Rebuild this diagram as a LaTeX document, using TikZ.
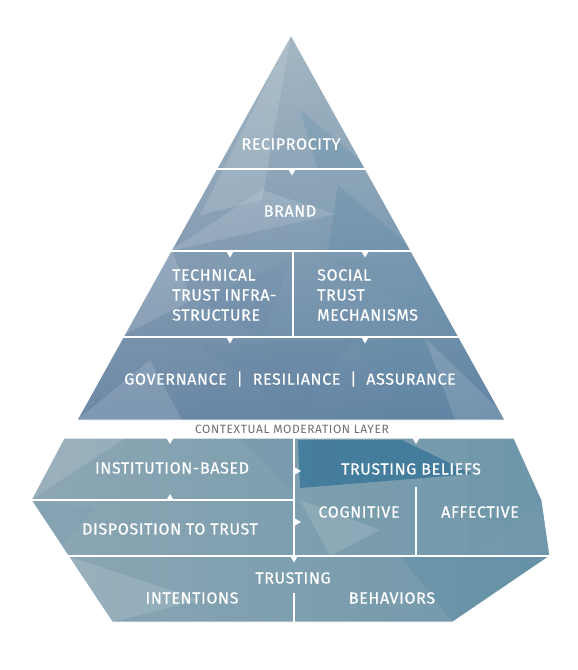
\documentclass[tikz,border=0pt]{standalone}
\usepackage{fontspec}
\setmainfont{Fira Sans}
\newfontfamily\lblfont{Fira Sans}[LetterSpace=4, FakeBold=0.5]
\newfontfamily\ctxfont{Fira Sans}[LetterSpace=5]
\usepackage{tikz}
\usetikzlibrary{calc}
\definecolor{pyrlight}{RGB}{200,205,211}
\definecolor{pyrmid}{RGB}{128,156,176}
\definecolor{pyrdark}{RGB}{96,124,160}
\definecolor{pyrteal}{RGB}{92,144,168}
\definecolor{lowlight}{RGB}{140,166,180}
\definecolor{lowmid}{RGB}{112,152,170}
\definecolor{deepteal}{RGB}{34,104,146}
\definecolor{layergray}{RGB}{110,110,110}
\tikzset{
  %% ---- text ----
  lbl/.style     = {text=white, font=\lblfont\fontsize{16}{20}\selectfont, inner sep=0pt},
  lblleft/.style = {lbl, align=left, anchor=west},
  ctxlbl/.style  = {text=layergray, font=\ctxfont\fontsize{12}{12}\selectfont, inner sep=0pt},
  %% ---- lines and patches ----
  divider/.style = {draw=white, line width=1.6pt},
  rim/.style     = {draw=white, line width=1pt},
  facet/.style   = {fill=#1, fill opacity=0.13},
  facet/.default = white,
}
% small white marks on the divider lines
\newcommand{\tipdown}[1]{\fill[white] ($(#1)+(-3.5,0)$) -- ($(#1)+(3.5,0)$) -- ($(#1)+(0,6)$) -- cycle;}
\newcommand{\tipup}[1]{\fill[white] ($(#1)+(-3.5,0)$) -- ($(#1)+(3.5,0)$) -- ($(#1)+(0,-6)$) -- cycle;}
\newcommand{\tipright}[1]{\fill[white] ($(#1)+(0,-3.5)$) -- ($(#1)+(0,3.5)$) -- ($(#1)+(6,0)$) -- cycle;}
\newcommand{\pyrpath}{(apex) -- (pyrL) -- (pyrR) -- cycle}
\newcommand{\lowpath}{(lowTL) -- (lowL) -- (lowBL) -- (lowBR) -- (lowR) -- (lowRT) -- (lowTR) -- cycle}

\begin{document}
\begin{tikzpicture}[x=1pt, y=-1pt]
\useasboundingbox[fill=white] (0,0) rectangle (578,670);

% outline points
\coordinate (apex)  at (291,35);
\coordinate (pyrL)  at (77,420);
\coordinate (pyrR)  at (505,420);
\coordinate (lowTL) at (64,438);
\coordinate (lowL)  at (31,500);
\coordinate (lowBL) at (112,622);
\coordinate (lowBR) at (453,622);
\coordinate (lowR)  at (550,556);
\coordinate (lowRT) at (542,500);
\coordinate (lowTR) at (514,438);

% soft shadow
\foreach \d/\o in {12/0.025, 9/0.035, 6/0.045, 3/0.06} {
  \fill[black, opacity=\o, shift={(\d*0.5,\d)}] \pyrpath;
  \fill[black, opacity=\o, shift={(\d*0.5,\d)}] \lowpath;
}

% base fills
\shade[top color=pyrlight, bottom color=pyrdark] \pyrpath;
\shade[left color=pyrmid, right color=pyrteal, opacity=0.4] \pyrpath;
\shade[left color=lowlight, right color=lowmid] \lowpath;

% low-poly facets
\begin{scope}
  \clip \pyrpath;
  \fill[facet] (291,35) -- (200,215) -- (262,200) -- cycle;
  \fill[facet=deepteal] (300,110) -- (370,169) -- (318,169) -- cycle;
  \fill[facet] (170,251) -- (262,190) -- (335,214) -- cycle;
  \fill[facet=deepteal] (338,185) -- (415,251) -- (328,251) -- cycle;
  \fill[facet] (120,337) -- (172,251) -- (192,300) -- cycle;
  \fill[facet=pyrdark] (200,300) -- (292,258) -- (262,337) -- cycle;
  \fill[facet=pyrteal] (330,260) -- (420,251) -- (460,337) -- cycle;
  \fill[facet] (77,420) -- (150,360) -- (182,420) -- cycle;
  \fill[facet=pyrdark] (200,345) -- (352,340) -- (300,420) -- cycle;
  \fill[facet] (425,338) -- (510,420) -- (455,420) -- cycle;
  \fill[facet=pyrteal] (350,340) -- (430,338) -- (420,420) -- cycle;
\end{scope}
\begin{scope}
  \clip \lowpath;
  \fill[facet] (64,438) -- (125,438) -- (31,500) -- cycle;
  \fill[facet=pyrteal] (31,500) -- (95,508) -- (62,545) -- cycle;
  \fill[facet=pyrdark] (240,438) -- (294,438) -- (294,492) -- cycle;
  \fill[deepteal, fill opacity=0.6] (298,440) -- (402,440) -- (472,474) -- (300,488) -- cycle;
  \fill[facet=pyrteal] (468,440) -- (514,438) -- (542,500) -- (470,556) -- cycle;
  \fill[facet] (300,500) -- (380,530) -- (330,556) -- cycle;
  \fill[facet=deepteal] (400,556) -- (550,556) -- (453,622) -- cycle;
  \fill[facet] (112,622) -- (68,556) -- (200,600) -- cycle;
\end{scope}

% rims
\draw[rim] \pyrpath;
\draw[rim] \lowpath;

% dividers, upper part
\draw[divider] ($(apex)!0.348!(pyrL)$) -- ($(apex)!0.348!(pyrR)$);
\draw[divider] ($(apex)!0.561!(pyrL)$) -- ($(apex)!0.561!(pyrR)$);
\draw[divider] ($(apex)!0.784!(pyrL)$) -- ($(apex)!0.784!(pyrR)$);
\draw[divider] (293,251) -- (293,337);

% dividers, lower part
\draw[divider] (lowL) -- (294,500);
\draw[divider] (294,438) -- (294,556);
\draw[divider] (416,487) -- (416,556);
\draw[divider] ($(lowL)!0.459!(lowBL)$) -- (lowR);
\draw[divider] (294,593) -- (294,622);

% marks
\tipdown{292,169.5}
\tipdown{230,251.5} \tipdown{365,251.5}
\tipdown{230,337.5} \tipdown{365,337.5}
\tipdown{170,438} \tipdown{416,438}
\tipup{170,500}
\tipright{295,471} \tipright{295,522}
\tipdown{294,556.5}

% labels
\node[lbl] (recip)  at (291,144) {RECIPROCITY};
\node[lbl] (brand)  at (290,211) {BRAND};
\node[lblleft] (tech)   at (172,295) {TECHNICAL\\TRUST INFRA-\\STRUCTURE};
\node[lblleft] (social) at (317,295) {SOCIAL\\TRUST\\MECHANISMS};
\node[lbl] (gov)    at (290,379) {GOVERNANCE\ \ |\ \ RESILIANCE\ \ |\ \ ASSURANCE};
\node[ctxlbl] (ctx) at (292,429) {CONTEXTUAL MODERATION LAYER};
\node[lbl] (inst)    at (172,468) {INSTITUTION-BASED};
\node[lbl] (disp)    at (170,529) {DISPOSITION TO TRUST};
\node[lbl] (beliefs) at (411,469) {TRUSTING BELIEFS};
\node[lbl] (cog)     at (359,512) {COGNITIVE};
\node[lbl] (aff)     at (480,512) {AFFECTIVE};
\node[lbl] (trust)   at (293,578) {TRUSTING};
\node[lbl] (intent)  at (192,598) {INTENTIONS};
\node[lbl] (behav)   at (392,598) {BEHAVIORS};
\end{tikzpicture}
\end{document}
